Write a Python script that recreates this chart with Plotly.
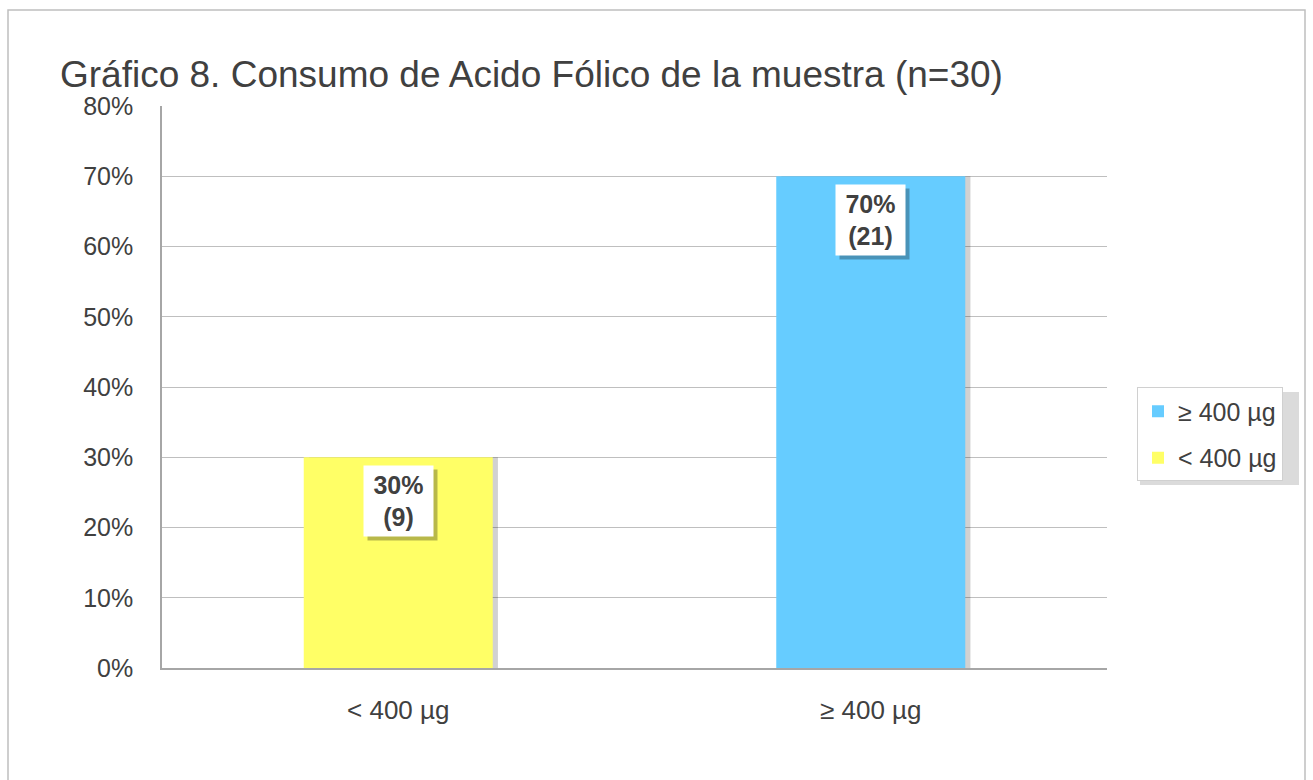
import plotly.graph_objects as go

categories = ["< 400 µg", "≥ 400 µg"]
percent = [0.30, 0.70]
counts = [9, 21]
bar_colors = ["#FFFF66", "#66CCFF"]
legend_ranks = [2, 1]
y_ticks = [0, 0.1, 0.2, 0.3, 0.4, 0.5, 0.6, 0.7, 0.8]

FONT = "Liberation Sans, Arial, sans-serif"
TXT = "#404040"

fig = go.Figure()

# soft shadows behind bars
for cat, val in zip(categories, percent):
    fig.add_trace(go.Bar(x=[cat], y=[val], width=0.4, offset=-0.2 + 0.011,
                         marker=dict(color="rgba(0,0,0,0.18)", line=dict(width=0)),
                         showlegend=False, hoverinfo="skip"))

for i, (cat, val, col, rk) in enumerate(zip(categories, percent, bar_colors, legend_ranks)):
    fig.add_trace(go.Bar(x=[cat], y=[val], name=cat, width=0.4, offset=-0.2,
                         legendgroup=f"g{i}", legendrank=rk,
                         marker=dict(color=col, line=dict(width=0))))

for cat, val, n in zip(categories, percent, counts):
    txt = f"<b>{round(val*100)}%<br>({n})</b>"
    # shadow box (no text)
    fig.add_annotation(x=cat, y=val, xref="x", yref="y", text="&nbsp;", showarrow=False,
                       yanchor="top", yshift=-12, xshift=4, width=63, height=64,
                       font=dict(family=FONT, size=25, color="rgba(0,0,0,0)"),
                       bgcolor="rgba(0,0,0,0.28)", borderpad=3)
    fig.add_annotation(x=cat, y=val, xref="x", yref="y", text=txt, showarrow=False,
                       yanchor="top", yshift=-8, width=63, height=64,
                       font=dict(family=FONT, size=25, color=TXT),
                       bgcolor="white", borderpad=3)

# outer chart border
fig.add_shape(type="rect", xref="paper", yref="paper",
              x0=(8 - 162) / 945, x1=(1305 - 162) / 945,
              y0=(668 - 800) / 562, y1=(668 - 10) / 562,
              line=dict(color="#BFBFBF", width=1.5), layer="below")
# legend shadow
fig.add_shape(type="rect", xref="paper", yref="paper",
              x0=(1140 - 162) / 945, x1=(1299 - 162) / 945,
              y0=(668 - 485) / 562, y1=(668 - 392) / 562,
              line=dict(width=0), fillcolor="rgba(0,0,0,0.14)", layer="below")

fig.update_layout(
    width=1313, height=780,
    margin=dict(l=162, r=206, t=106, b=112),
    paper_bgcolor="white", plot_bgcolor="white",
    barmode="overlay",
    font=dict(family=FONT, color=TXT, size=26),
    title=dict(text="Gráfico 8. Consumo de Acido Fólico de la muestra (n=30)",
               x=60 / 1313, xanchor="left", xref="container",
               y=1 - 74 / 780, yanchor="middle", yref="container",
               font=dict(family=FONT, size=37, color=TXT)),
    legend=dict(x=(1137 - 162) / 945, xanchor="left", y=0.4155, yanchor="middle",
                traceorder="grouped", tracegroupgap=11,
                bgcolor="white", bordercolor="#D0D0D0",
                borderwidth=1, font=dict(family=FONT, size=25, color=TXT)),
    xaxis=dict(categoryorder="array", categoryarray=categories,
               showline=True, linecolor="#A6A6A6", linewidth=1.5,
               showgrid=False, ticks="", ticklabelstandoff=18,
               tickfont=dict(family=FONT, size=26, color=TXT)),
    yaxis=dict(range=[0, 0.8], tickvals=y_ticks, tickformat=".0%",
               showline=True, linecolor="#A6A6A6", linewidth=1.5,
               gridcolor="#BFBFBF", gridwidth=1, zeroline=False,
               ticks="", ticklabelstandoff=22,
               tickfont=dict(family=FONT, size=25, color=TXT)),
)

fig.write_html("out.html")
